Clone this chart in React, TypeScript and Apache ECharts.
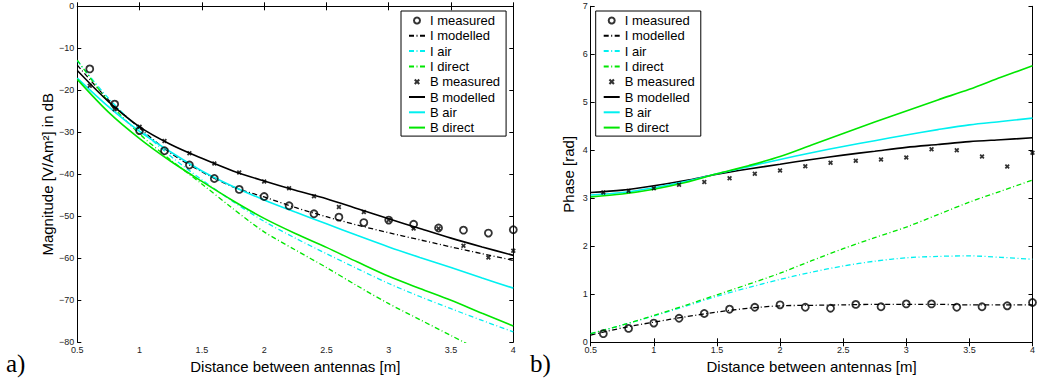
import React, { useEffect, useRef } from "react";
import * as echarts from "echarts";

const FONT = '"Liberation Sans", Arial, Helvetica, sans-serif';

const LEGEND_NAMES = [
  "I measured",
  "I modelled",
  "I air",
  "I direct",
  "B measured",
  "B modelled",
  "B air",
  "B direct",
];
const MARKER_NAMES = ["I measured", "B measured"];

// measurement positions
const X_MEAS = [0.6, 0.8, 1.0, 1.2, 1.4, 1.6, 1.8, 2.0, 2.2, 2.4, 2.6, 2.8, 3.0, 3.2, 3.4, 3.6, 3.8, 4.0];
// model curve sample positions
const X_MODEL = [0.5, 0.75, 1.0, 1.25, 1.5, 1.75, 2.0, 2.25, 2.5, 2.75, 3.0, 3.25, 3.5, 3.75, 4.0];

// ---- magnitude (a), dB ----
const I_MEAS_MAG = [-14.9, -23.3, -29.6, -34.4, -37.8, -41.0, -43.6, -45.3, -47.5, -49.4, -50.2, -51.5, -50.9, -51.9, -52.8, -53.3, -54.0, -53.2];
const B_MEAS_MAG = [-18.9, -24.5, -28.7, -32.1, -35.0, -37.4, -39.6, -41.7, -43.3, -45.2, -47.8, -49.0, -50.9, -52.9, -52.9, -57.0, -59.8, -58.2];
const I_MOD_MAG = [-14.0, -22.3, -29.0, -35.0, -39.4, -43.0, -45.4, -47.9, -50.1, -52.1, -53.9, -55.6, -57.3, -58.9, -60.5];
const I_AIR_MAG = [-13.0, -21.9, -29.2, -35.7, -41.3, -46.5, -51.2, -55.2, -58.9, -62.5, -66.0, -69.1, -72.0, -74.8, -77.5];
const I_DIR_MAG = [-12.8, -22.7, -30.4, -36.6, -42.3, -48.2, -53.7, -58.0, -62.2, -66.6, -70.8, -74.6, -78.4, -82.2, -86.0];
const B_MOD_MAG = [-15.3, -22.7, -28.7, -32.9, -36.2, -39.2, -41.6, -43.8, -45.8, -48.2, -50.6, -52.9, -55.2, -57.3, -59.3];
const B_AIR_MAG = [-17.1, -23.9, -29.8, -34.7, -39.2, -42.9, -46.1, -49.0, -51.8, -54.6, -57.3, -59.8, -62.2, -64.7, -67.1];
const B_DIR_MAG = [-17.4, -25.2, -31.5, -36.9, -41.7, -46.3, -50.5, -54.1, -57.4, -60.9, -64.3, -67.2, -70.0, -73.1, -76.1];

// ---- phase (b), rad ----
const I_MEAS_PH = [0.18, 0.29, 0.40, 0.50, 0.60, 0.69, 0.73, 0.78, 0.73, 0.71, 0.79, 0.74, 0.80, 0.80, 0.73, 0.74, 0.76, 0.83];
const B_MEAS_PH = [3.12, 3.15, 3.21, 3.28, 3.34, 3.42, 3.51, 3.58, 3.67, 3.74, 3.78, 3.81, 3.85, 4.02, 4.00, 3.87, 3.66, 3.95];
const I_MOD_PH = [0.15, 0.30, 0.42, 0.53, 0.63, 0.71, 0.76, 0.77, 0.78, 0.79, 0.79, 0.79, 0.78, 0.78, 0.78];
const I_AIR_PH = [0.18, 0.36, 0.55, 0.75, 0.96, 1.14, 1.31, 1.46, 1.59, 1.69, 1.76, 1.79, 1.80, 1.77, 1.73];
const I_DIR_PH = [0.18, 0.36, 0.56, 0.77, 0.99, 1.21, 1.44, 1.70, 1.95, 2.18, 2.40, 2.66, 2.92, 3.15, 3.38];
const B_MOD_PH = [3.12, 3.17, 3.26, 3.37, 3.50, 3.61, 3.71, 3.81, 3.90, 3.98, 4.06, 4.12, 4.18, 4.22, 4.26];
const B_AIR_PH = [3.07, 3.12, 3.22, 3.35, 3.51, 3.66, 3.81, 3.95, 4.08, 4.20, 4.32, 4.43, 4.53, 4.60, 4.67];
const B_DIR_PH = [3.03, 3.09, 3.19, 3.33, 3.51, 3.68, 3.87, 4.11, 4.35, 4.59, 4.82, 5.05, 5.27, 5.52, 5.76];

const BLACK = "#000000";
const CYAN = "#00f0f0";
const GREEN = "#00e600";
const DASHDOT = [5, 2.5, 1, 2.5];
const CROSS = "path://M0,2.5L2.5,0L5,2.5L7.5,0L10,2.5L7.5,5L10,7.5L7.5,10L5,7.5L2.5,10L0,7.5L2.5,5Z";

const pairs = (xs: number[], ys: number[]) => xs.map((x, i) => [x, ys[i]]);

function lineS(name: string, ys: number[], color: string, dash: boolean, g: number) {
  return {
    type: "line",
    name,
    xAxisIndex: g * 2,
    yAxisIndex: g * 2,
    data: pairs(X_MODEL, ys),
    symbol: "none",
    smooth: 0.3,
    clip: true,
    lineStyle: { color, width: dash ? 1.3 : 1.6, type: dash ? DASHDOT : "solid" },
    itemStyle: { color },
    z: 2,
  };
}

function circleS(name: string, ys: number[], g: number) {
  return {
    type: "scatter",
    name,
    xAxisIndex: g * 2,
    yAxisIndex: g * 2,
    data: pairs(X_MEAS, ys),
    symbol: "circle",
    symbolSize: 7,
    itemStyle: { color: "rgba(0,0,0,0)", borderColor: BLACK, borderWidth: 1.8 },
    z: 3,
  };
}

function crossS(name: string, ys: number[], g: number) {
  return {
    type: "scatter",
    name,
    xAxisIndex: g * 2,
    yAxisIndex: g * 2,
    data: pairs(X_MEAS, ys),
    symbol: CROSS,
    symbolSize: 5,
    itemStyle: { color: BLACK },
    z: 3,
  };
}

const tickLabel = {
  fontSize: 9,
  fontFamily: FONT,
  color: "#222",
  formatter: (v: number) => String(v).replace("-", "\u2212"),
};

function axesFor(g: number, yMin: number, yMax: number, yInt: number, yName: string, yGap: number) {
  const line = { show: true, lineStyle: { color: BLACK, width: 1 } };
  const tick = { show: true, inside: true, length: 4, lineStyle: { color: BLACK, width: 1 } };
  const xa = [
    {
      type: "value", gridIndex: g, position: "bottom", min: 0.5, max: 4, interval: 0.5,
      axisLine: line, axisTick: tick, splitLine: { show: false },
      axisLabel: { ...tickLabel, margin: 3 },
      name: "Distance between antennas [m]", nameLocation: "middle", nameGap: 14,
      nameTextStyle: { fontSize: 15, fontFamily: FONT, color: BLACK },
    },
    {
      type: "value", gridIndex: g, position: "top", min: 0.5, max: 4, interval: 0.5,
      axisLine: line, axisTick: tick, splitLine: { show: false }, axisLabel: { show: false },
    },
  ];
  const ya = [
    {
      type: "value", gridIndex: g, position: "left", min: yMin, max: yMax, interval: yInt,
      axisLine: line, axisTick: tick, splitLine: { show: false },
      axisLabel: { ...tickLabel, margin: 3 },
      name: yName, nameLocation: "middle", nameGap: yGap,
      nameTextStyle: { fontSize: 15, fontFamily: FONT, color: BLACK },
    },
    {
      type: "value", gridIndex: g, position: "right", min: yMin, max: yMax, interval: yInt,
      axisLine: line, axisTick: tick, splitLine: { show: false }, axisLabel: { show: false },
    },
  ];
  return { xa, ya };
}

function legendAt(left: number) {
  return {
    data: LEGEND_NAMES.map((name) =>
      MARKER_NAMES.includes(name)
        ? { name }
        : { name, itemStyle: { color: "rgba(0,0,0,0)", borderColor: "rgba(0,0,0,0)", borderWidth: 0 } }
    ),
    orient: "vertical",
    left,
    top: 11,
    padding: [3, 6, 2, 7],
    itemWidth: 16,
    itemHeight: 6,
    itemGap: 2.3,
    itemTextGap: 6,
    borderColor: BLACK,
    borderWidth: 1,
    borderRadius: 0,
    backgroundColor: "#fff",
    selectedMode: false,
    textStyle: { fontSize: 13, fontFamily: FONT, color: BLACK, lineHeight: 13 },
  };
}

export default function App() {
  const ref = useRef<HTMLDivElement>(null);
  useEffect(() => {
    if (!ref.current) return;
    const chart = echarts.init(ref.current, undefined, { renderer: "svg" });
    const a = axesFor(0, -80, 0, 10, "Magnitude [V/Am\u00B2] in dB", 22);
    const b = axesFor(1, 0, 7, 1, "Phase [rad]", 15);
    const series = [
      circleS("I measured", I_MEAS_MAG, 0),
      lineS("I modelled", I_MOD_MAG, BLACK, true, 0),
      lineS("I air", I_AIR_MAG, CYAN, true, 0),
      lineS("I direct", I_DIR_MAG, GREEN, true, 0),
      crossS("B measured", B_MEAS_MAG, 0),
      lineS("B modelled", B_MOD_MAG, BLACK, false, 0),
      lineS("B air", B_AIR_MAG, CYAN, false, 0),
      lineS("B direct", B_DIR_MAG, GREEN, false, 0),
      circleS("I measured", I_MEAS_PH, 1),
      lineS("I modelled", I_MOD_PH, BLACK, true, 1),
      lineS("I air", I_AIR_PH, CYAN, true, 1),
      lineS("I direct", I_DIR_PH, GREEN, true, 1),
      crossS("B measured", B_MEAS_PH, 1),
      lineS("B modelled", B_MOD_PH, BLACK, false, 1),
      lineS("B air", B_AIR_PH, CYAN, false, 1),
      lineS("B direct", B_DIR_PH, GREEN, false, 1),
    ];
    chart.setOption({
      animation: false,
      backgroundColor: "#fff",
      grid: [
        { left: 77.3, top: 6.3, width: 436, height: 336 },
        { left: 590.7, top: 6.3, width: 446.6, height: 336 },
      ],
      xAxis: [...a.xa, ...b.xa],
      yAxis: [...a.ya, ...b.ya],
      legend: [legendAt(401), legendAt(595.7)],
      series,
      graphic: [
        { type: "text", left: 6, top: 351, style: { text: "a)", font: '25px "Liberation Serif", "DejaVu Serif", serif', fill: BLACK } },
        { type: "text", left: 530, top: 351, style: { text: "b)", font: '25px "Liberation Serif", "DejaVu Serif", serif', fill: BLACK } },
      ],
    });
    return () => chart.dispose();
  }, []);
  return (
    <div
      ref={ref}
      style={{ position: "fixed", left: 0, top: 0, width: 1038, height: 385, background: "#fff" }}
    />
  );
}
